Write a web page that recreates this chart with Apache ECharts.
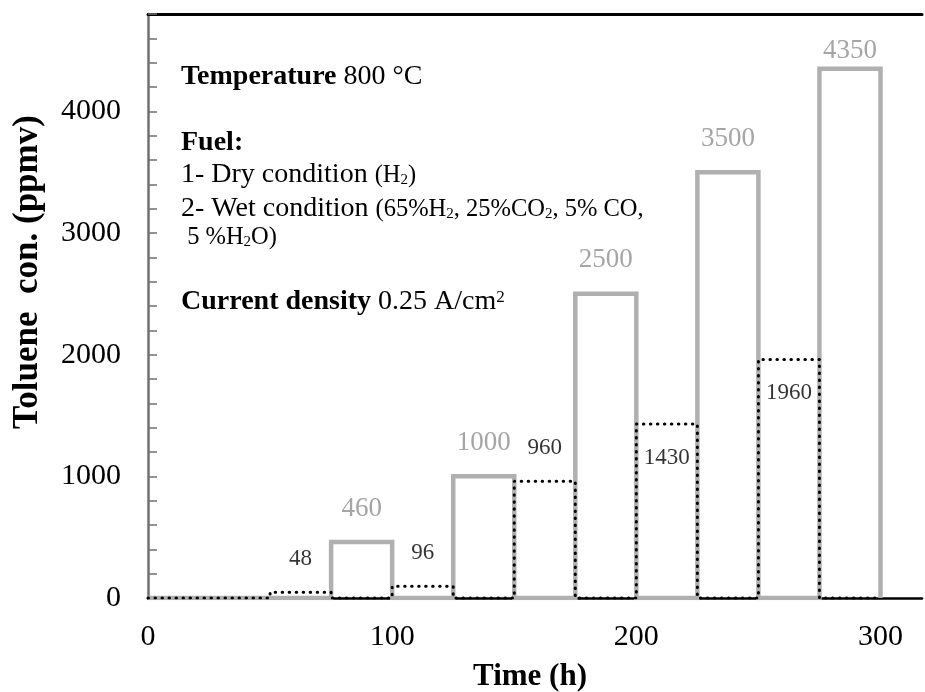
<!DOCTYPE html>
<html>
<head>
<meta charset="utf-8">
<script src="https://cdn.jsdelivr.net/npm/echarts@6/dist/echarts.min.js"></script>
<style>
  html, body { margin: 0; padding: 0; background: #fff; }
  #chart { width: 925px; height: 692px; }
</style>
</head>
<body>
<div id="chart"></div>
<script>
// dry condition (H2): value holds from this time until the next time
const dryTimes = [0, 75, 100, 125, 150, 175, 200, 225, 250, 275, 300]
const dryValues = [0, 460, 0, 1000, 0, 2500, 0, 3500, 0, 4350, 0]
// wet condition: same step layout, shifted by 25 h
const wetTimes = [0, 50, 75, 100, 125, 150, 175, 200, 225, 250, 275, 300]
const wetValues = [0, 48, 0, 96, 0, 960, 0, 1430, 0, 1960, 0, 0]
const xTickLabels = [0, 100, 200, 300]
const yTickLabels = [0, 1000, 2000, 3000, 4000]

const serif = "'Liberation Serif', 'Times New Roman', serif"

const toPairs = (ts, vs) => ts.map((t, i) => [t, vs[i]])
// one label per plateau, centred on it
const plateauLabels = (ts, vs) => {
    let out = []
    vs.forEach((v, i) => {
        if (v > 0 && i < ts.length - 1) out.push([(ts[i] + ts[i + 1]) / 2, v])
    })
    return out
}

var mychart = echarts.init(document.getElementById('chart'))

// rich styles for the note block (small / sub / sup tokens sit on the main baseline)
const rich = {
    b: { fontFamily: serif, fontSize: 28, fontWeight: 'bold', color: '#000', lineHeight: 26 },
    r: { fontFamily: serif, fontSize: 28, color: '#000', lineHeight: 26 },
    s: { fontFamily: serif, fontSize: 24.5, color: '#000', lineHeight: 24, verticalAlign: 'bottom' },
    sub: { fontFamily: serif, fontSize: 15, color: '#000', lineHeight: 10, verticalAlign: 'bottom' },
    sup: { fontFamily: serif, fontSize: 17, color: '#000', lineHeight: 17, verticalAlign: 'top' }
}
const note = (y, text) => ({
    type: 'text', x: 181, y: y, silent: true,
    style: { text: text, rich: rich, align: 'left', verticalAlign: 'top' }
})

let option = {
    animation: false,
    backgroundColor: '#fff',
    grid: { left: 148, right: 0, top: 14, bottom: 94 },
    xAxis: [
        {
            type: 'value', min: 0, max: 317, interval: 100,
            axisLine: { lineStyle: { color: '#000', width: 2.5 } },
            axisTick: { show: false },
            splitLine: { show: false },
            axisLabel: {
                margin: 24, fontFamily: serif, fontSize: 30, color: '#000',
                formatter: v => xTickLabels.includes(v) ? String(v) : ''
            }
        },
        {
            type: 'value', position: 'top', min: 0, max: 317,
            axisLine: { show: true, lineStyle: { color: '#000', width: 3 } },
            axisTick: { show: false }, axisLabel: { show: false }, splitLine: { show: false }
        }
    ],
    yAxis: {
        type: 'value', min: 0, max: 4800, interval: 200,
        axisLine: { show: true, lineStyle: { color: '#707070', width: 2.5 } },
        axisTick: { show: true, inside: true, length: 9, lineStyle: { color: '#707070', width: 1.5 } },
        splitLine: { show: false },
        axisLabel: {
            margin: 27, fontFamily: serif, fontSize: 30, color: '#000',
            formatter: v => yTickLabels.includes(v) ? String(v) : ''
        }
    },
    series: [
        {
            type: 'line', step: 'end', showSymbol: false, z: 2,
            data: toPairs(dryTimes, dryValues),
            lineStyle: { color: '#b0b0b0', width: 4.5, join: 'miter' }
        },
        {
            type: 'line', step: 'end', showSymbol: false, z: 3,
            data: toPairs(wetTimes, wetValues),
            lineStyle: { color: '#000', width: 3, type: [0.5, 6.5], cap: 'round' }
        },
        {
            type: 'scatter', symbolSize: 0, silent: true, z: 4,
            data: plateauLabels(dryTimes, dryValues).map(p => ({
                value: p,
                label: { distance: p[1] > 4000 ? 4 : 20 }
            })),
            label: {
                show: true, position: 'top',
                fontFamily: serif, fontSize: 27, color: '#8e8e8e',
                formatter: p => String(p.value[1])
            }
        },
        {
            type: 'scatter', symbolSize: 0, silent: true, z: 4,
            data: plateauLabels(wetTimes, wetValues).map(p => ({
                value: p,
                label: p[1] > 1000 ? { position: 'bottom', distance: 22 } : { position: 'top', distance: 22 }
            })),
            label: {
                show: true,
                fontFamily: serif, fontSize: 23, color: '#000',
                formatter: p => String(p.value[1])
            }
        }
    ],
    graphic: [
        {
            type: 'text', x: 28, y: 272, rotation: Math.PI / 2, silent: true,
            style: {
                text: 'Toluene  con. (ppmv)', fontFamily: serif, fontSize: 35, fontWeight: 'bold',
                fill: '#000', align: 'center', verticalAlign: 'middle'
            }
        },
        {
            type: 'text', x: 530, y: 677, silent: true,
            style: {
                text: 'Time (h)', fontFamily: serif, fontSize: 31, fontWeight: 'bold',
                fill: '#000', align: 'center', verticalAlign: 'middle'
            }
        },
        note(64, '{b|Temperature}{r| 800 °C}'),
        note(130, '{b|Fuel:}'),
        note(162, '{r|1- Dry condition }{s|(H}{sub|2}{s|)}'),
        note(196, '{r|2- Wet condition }{s|(65%H}{sub|2}{s|, 25%CO}{sub|2}{s|, 5% CO,}'),
        note(226, '{s| 5 %H}{sub|2}{s|O)}'),
        note(289, '{b|Current density}{r| 0.25 A/cm}{sup|2}')
    ]
}
mychart.setOption(option)
</script>
</body>
</html>
